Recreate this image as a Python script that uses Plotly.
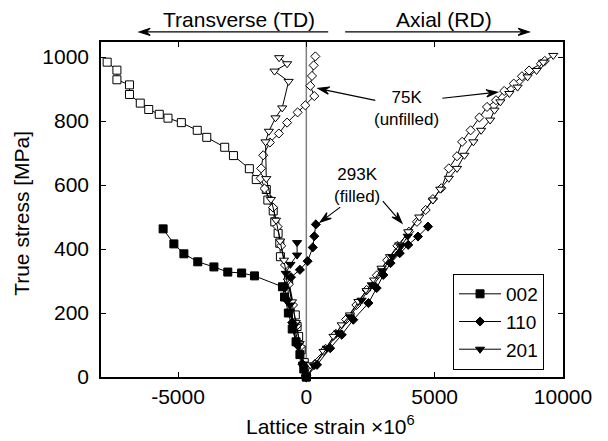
import math
import plotly.graph_objects as go

# ---------------- data (lattice strain x1e6, true stress MPa) ----------------
# 75K (unfilled markers), transverse (TD) branches
td75_002_x = [0, -80, -200, -300, -360, -430, -690, -1010, -1035, -1100, -1230, -1290, -1500, -1560, -1950, -2220, -2840, -3180, -3880, -4250, -4870, -5390, -5730, -6140, -6470, -6890, -6890, -7380, -7380, -7760]
td75_002_y = [0, 45, 85, 127, 158, 194, 303, 376, 418, 449, 485, 519, 553, 586, 617, 651, 692, 718, 749, 771, 795, 809, 821, 836, 856, 883, 913, 929, 959, 984]
td75_110_x = [0, -90, -230, -380, -520, -680, -830, -980, -1120, -1300, -1630, -1780, -1760, -1680, -1420, -1070, -750, -340, -40, 310, 155, 220, 285, 350]
td75_110_y = [0, 35, 95, 160, 225, 290, 350, 410, 470, 530, 589, 621, 652, 693, 733, 761, 795, 827, 849, 878, 910, 941, 974, 1002]
td75_201_x = [0, -110, -260, -410, -560, -720, -870, -1020, -1180, -1380, -1560, -1590, -1460, -1200, -940, -690, -1240, -750, -1060]
td75_201_y = [0, 40, 105, 170, 235, 300, 365, 425, 490, 555, 620, 735, 768, 810, 841, 924, 956, 979, 998]

# 75K (unfilled markers), axial (RD) branches
rd75_110_x = [0, 330, 750, 1150, 1550, 1950, 2350, 2750, 3150, 3550, 4000, 4310, 4650, 4930, 5260, 5550, 5870, 6070, 6400, 6740, 7040, 7390, 7710, 8080, 8400, 8680, 9140, 9290]
rd75_110_y = [0, 40, 88, 135, 180, 225, 272, 318, 365, 410, 454, 485, 522, 556, 590, 652, 690, 735, 771, 811, 844, 865, 894, 917, 940, 958, 979, 988]
rd75_201_x = [0, 155, 670, 1060, 1380, 1700, 2030, 2350, 2640, 2930, 3260, 3620, 3970, 4400, 4930, 5220, 5550, 5870, 6160, 6510, 6810, 7160, 7330, 7560, 7910, 8230, 8620, 8970, 9230, 9620]
rd75_201_y = [0, 38, 80, 127, 163, 194, 236, 270, 303, 340, 376, 413, 454, 500, 553, 587, 621, 652, 693, 735, 771, 803, 834, 860, 886, 906, 938, 958, 984, 1005]

# 293K (filled markers), transverse (TD) branches
td293_002_x = [0, -100, -250, -400, -550, -700, -850, -930, -2020, -2520, -3060, -3600, -4230, -4770, -5160, -5580]
td293_002_y = [0, 25, 70, 110, 150, 200, 250, 282, 316, 325, 328, 344, 360, 385, 416, 463]
td293_110_x = [0, -150, -350, -550, -750, -850, -600, -250, 50, 250, 310, 370]
td293_110_y = [0, 40, 100, 170, 240, 280, 312, 335, 362, 405, 440, 477]
td293_201_x = [0, -130, -300, -470, -640, -800, -620, -360, -360]
td293_201_y = [0, 40, 100, 160, 225, 324, 352, 381, 420]

# 293K (filled markers), axial (RD) branches
rd293_110_x = [0, 415, 930, 1380, 1830, 2420, 2740, 3000, 3280, 3640, 3970, 4350, 4740]
rd293_110_y = [0, 38, 90, 132, 179, 231, 278, 319, 356, 387, 413, 439, 470]
rd293_201_x = [0, 300, 800, 1250, 1700, 2150, 2550, 2950, 3350, 3700, 3950]
rd293_201_y = [0, 35, 90, 138, 188, 240, 288, 332, 376, 410, 440]

legend_names = ["002", "110", "201"]

# ---------------- figure ----------------
fig = go.Figure()

def add(x, y, symbol, filled, name=None, show=False, size=7):
    fig.add_trace(go.Scatter(
        x=x, y=y, mode="lines+markers", name=name, showlegend=show,
        line=dict(color="black", width=1),
        marker=dict(symbol=symbol, size=size,
                    color="black" if filled else "white",
                    line=dict(color="black", width=1)),
        cliponaxis=False,
    ))

# unfilled 75K
add(td75_002_x, td75_002_y, "square", False, size=8)
add(td75_110_x, td75_110_y, "diamond", False)
add(td75_201_x, td75_201_y, "triangle-down", False, size=8)
add(rd75_110_x, rd75_110_y, "diamond", False)
add(rd75_201_x, rd75_201_y, "triangle-down", False, size=8)
# filled 293K
add(rd293_110_x, rd293_110_y, "diamond", True)
add(rd293_201_x, rd293_201_y, "triangle-down", True, size=8)
add(td293_002_x, td293_002_y, "square", True, name=legend_names[0], show=True, size=8)
add(td293_110_x, td293_110_y, "diamond", True, name=legend_names[1], show=True)
add(td293_201_x, td293_201_y, "triangle-down", True, name=legend_names[2], show=True, size=8)

# vertical line at zero strain
fig.add_shape(type="line", x0=0, x1=0, y0=0, y1=1, xref="x", yref="paper",
              line=dict(color="#7f7f7f", width=1.5), layer="below")

# arrows: anchored at tip (x data, y data/paper), tail offset in pixels (dx right, dy up)
def arrow(xa, ya, dx, dy, yref="y", L=11, W=3.6):
    n = math.hypot(dx, dy)
    ux, uy = dx / n, dy / n
    px, py = -uy, ux
    b1 = (L * ux + W * px, L * uy + W * py)
    b2 = (L * ux - W * px, L * uy - W * py)
    path = (f"M {dx:.1f},{dy:.1f} L {L*ux*0.6:.1f},{L*uy*0.6:.1f} "
            f"M 0,0 L {b1[0]:.1f},{b1[1]:.1f} L {L*ux*0.6:.1f},{L*uy*0.6:.1f} L {b2[0]:.1f},{b2[1]:.1f} Z")
    fig.add_shape(type="path", xref="x", yref=yref, xsizemode="pixel", ysizemode="pixel",
                  xanchor=xa, yanchor=ya, path=path, fillcolor="black",
                  line=dict(color="black", width=1.2))

arrow(-6512, 1.030, 189, 0, yref="paper")     # Transverse
arrow(8682, 1.030, -184, 0, yref="paper")     # Axial
arrow(465, 902, 57, -12)                      # 75K -> TD
arrow(7442, 890, -55, -6)                     # 75K -> RD
arrow(543, 484, 20, 15)                       # 293K -> TD
arrow(3721, 481, -19, 22)                     # 293K -> RD

ffam = "Liberation Sans, Arial, Helvetica, sans-serif"
font = dict(family=ffam, size=21, color="black")
small = dict(family=ffam, size=17, color="black")

ann = [
    dict(text="Transverse (TD)", x=-2636, y=1.066, xref="x", yref="paper",
         showarrow=False, font=dict(family=ffam, size=21, color="black"), yanchor="middle"),
    dict(text="Axial (RD)", x=5349, y=1.066, xref="x", yref="paper",
         showarrow=False, font=dict(family=ffam, size=21, color="black"), yanchor="middle"),
    dict(text="75K<br>(unfilled)", x=3915, y=840, xref="x", yref="y",
         showarrow=False, font=small),
    dict(text="293K<br>(filled)", x=1977, y=600, xref="x", yref="y",
         showarrow=False, font=small),
    dict(text="Lattice strain ×10<sup>6</sup>", x=0.496, y=-0.143, xref="paper", yref="paper",
         showarrow=False, font=font, yanchor="middle"),
    dict(text="True stress [MPa]", x=-0.171, y=0.49, xref="paper", yref="paper",
         showarrow=False, font=font, textangle=-90, xanchor="center", yanchor="middle"),
]

# page body has an 8px margin: figure is 600x433 placed at (8, 8)
fig.update_layout(
    width=600, height=433,
    margin=dict(l=93, r=45, t=34, b=64, autoexpand=False),
    paper_bgcolor="white", plot_bgcolor="white",
    font=font,
    annotations=ann,
    showlegend=True,
    legend=dict(x=0.762, y=0.021, xanchor="left", yanchor="bottom",
                bgcolor="white", bordercolor="black", borderwidth=1,
                font=dict(family=ffam, size=19, color="black"), tracegroupgap=0, itemwidth=42),
    xaxis=dict(range=[-8000, 10000], tickvals=[-5000, 0, 5000, 10000],
               ticktext=["-5000", "0", "5000", "10000"], automargin=False,
               ticks="inside", ticklen=5, tickcolor="black", showgrid=False, zeroline=False,
               showline=True, linecolor="black", linewidth=1.5, mirror="ticks",
               tickfont=font),
    yaxis=dict(range=[0, 1047], tickvals=[0, 200, 400, 600, 800, 1000], automargin=False,
               ticks="inside", ticklen=5, tickcolor="black", showgrid=False, zeroline=False,
               showline=True, linecolor="black", linewidth=1.5, mirror="ticks",
               ticklabelstandoff=6, tickfont=font),
)

fig.write_html("out.html")
